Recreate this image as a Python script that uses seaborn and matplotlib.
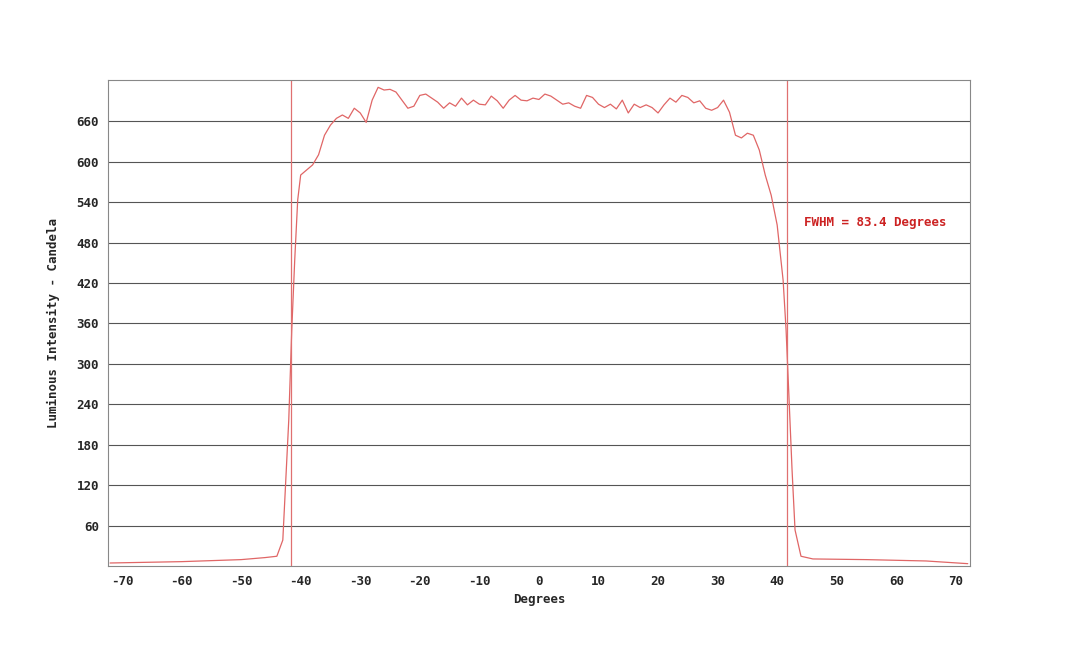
import numpy as np
import pandas as pd
import matplotlib
matplotlib.use("Agg")
import matplotlib.pyplot as plt
import seaborn as sns

degrees = [-72, -60, -50, -46, -44, -43, -42, -41.5, -41, -40.5, -40, -38, -37, -36, -35, -34, -33, -32,
           -31, -30, -29, -28, -27, -26, -25, -24, -23, -22, -21, -20, -19, -18, -17, -16, -15, -14, -13,
           -12, -11, -10, -9, -8, -7, -6, -5, -4, -3, -2, -1, 0, 1, 2, 3, 4, 5, 6, 7, 8, 9, 10, 11, 12,
           13, 14, 15, 16, 17, 18, 19, 20, 21, 22, 23, 24, 25, 26, 27, 28, 29, 30, 31, 32, 33, 34, 35,
           36, 37, 38, 39, 40, 41, 41.5, 42, 42.5, 43, 44, 46, 55, 65, 72]
candela = [5, 7, 10, 13, 15, 39, 217, 350, 454, 543, 580, 595, 610, 639, 654, 664, 669, 664,
           679, 672, 658, 691, 710, 706, 707, 703, 691, 679, 682, 698, 700, 694, 688, 679, 687, 682, 694,
           684, 691, 685, 684, 697, 690, 679, 691, 698, 691, 690, 694, 692, 700, 697, 691, 685, 687, 682, 679, 698, 695, 685, 680, 685,
           678, 691, 672, 685, 680, 684, 680, 672, 684, 694, 688, 698, 695, 687, 690, 679, 676, 680, 691, 673, 639, 635, 642,
           639, 617, 580, 550, 506, 424, 350, 247, 143, 54, 15, 11, 10, 8, 4]
fwhm_edges = [-41.7, 41.7]
fwhm_label = "FWHM = 83.4 Degrees"

df = pd.DataFrame({"Degrees": degrees, "Candela": candela})

sns.set_style("white")
plt.rcParams['font.family'] = ['DejaVu Sans Mono']
plt.rcParams['axes.unicode_minus'] = False

fig = plt.figure(figsize=(10.8, 6.46), dpi=100)
ax = fig.add_axes([0.1, 0.124, 0.798, 0.752])

sns.lineplot(data=df, x="Degrees", y="Candela", ax=ax, color="#e06666", linewidth=0.9)
for e in fwhm_edges:
    ax.axvline(e, color="#e07070", linewidth=0.9)

ax.set_xlim(-72.35, 72.35)
ax.set_ylim(0.7, 720.7)
ax.set_xticks(np.arange(-70, 71, 10))
ax.set_yticks(np.arange(60, 661, 60))
ax.yaxis.grid(True, color="#555555", linewidth=0.8)
ax.set_axisbelow(True)
for s in ax.spines.values():
    s.set_color("#888888")
    s.set_linewidth(0.8)
ax.tick_params(labelsize=9, length=3, color="#888888")
for lbl in ax.get_xticklabels() + ax.get_yticklabels():
    lbl.set_fontweight("bold")
ax.set_xlabel("Degrees", fontsize=9, fontweight="bold")
ax.set_ylabel("Luminous Intensity - Candela", fontsize=9, fontweight="bold", labelpad=12)
ax.text(44.5, 510, fwhm_label, color="#cc2222", fontsize=9, fontweight="bold", va="center")

fig.savefig("out.png", dpi=100, facecolor="white")
